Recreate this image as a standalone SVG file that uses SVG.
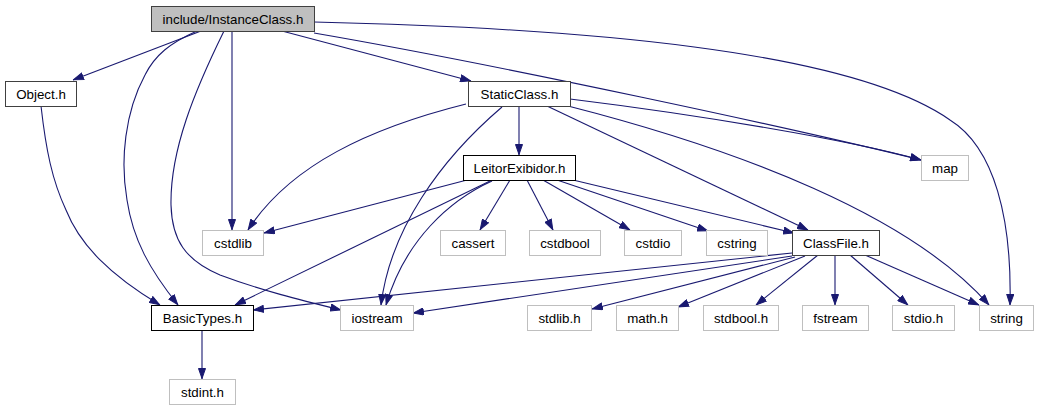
<svg xmlns="http://www.w3.org/2000/svg" width="1039" height="411" viewBox="0 0 1039 411">
<style>
.n rect{fill:#ffffff;stroke:#000000;stroke-width:1}
.n.g rect{stroke:#bfbfbf}
.n.d rect{stroke:#404040}
.n.root rect{fill:#bfbfbf;stroke:#404040}
.n text{font-family:"Liberation Sans",Arial,Helvetica,sans-serif;font-size:13.33px;fill:#000000;text-anchor:middle}
#edges path{fill:none;stroke:#191970;stroke-width:1.1;marker-end:url(#arr)}
</style>
<defs>
<marker id="arr" viewBox="0 0 11 8" refX="11" refY="4" markerWidth="11" markerHeight="8" markerUnits="userSpaceOnUse" orient="auto">
<path d="M0.5,0.5 L10.5,4 L0.5,7.5 z" fill="#191970" stroke="#191970" stroke-width="1"/>
</marker>
</defs>
<rect width="1039" height="411" fill="#ffffff"/>
<g id="edges">
<path d="M201,31 L73,80"/>
<path d="M197,31 C170,43 155,55 145,75 C125,112 120,160 127,200 C133,240 150,270 178,305"/>
<path d="M41,106 C46,150 52,180 66,210 C80,245 110,275 160,305"/>
<path d="M224,31 C195,90 170,150 171,205 C172,240 185,260 220,275 C260,290 300,300 341,310"/>
<path d="M232,31 L232,230"/>
<path d="M282,31 L471,81"/>
<path d="M314,33 C500,65 800,130 921,160"/>
<path d="M570,99 C700,115 850,140 921,160"/>
<path d="M314,22 C580,28 850,50 950,120 C995,148 1012,220 1010,305"/>
<path d="M466,104 C370,128 290,165 248,230"/>
<path d="M502,107 C440,160 390,230 381,305"/>
<path d="M519,106 L519,155"/>
<path d="M547,106 L808,230"/>
<path d="M568,106 C740,150 910,215 989,305"/>
<path d="M467,180 L264,233"/>
<path d="M490,181 L235,305"/>
<path d="M492,181 C450,200 405,240 386,305"/>
<path d="M510,180 L480,230"/>
<path d="M527,180 L553,230"/>
<path d="M543,180 L630,230"/>
<path d="M557,180 L708,231"/>
<path d="M573,180 L794,233"/>
<path d="M792,253 L253,310"/>
<path d="M792,256 L413,313"/>
<path d="M795,257 L592,309"/>
<path d="M805,256 L678,307"/>
<path d="M818,255 L756,305"/>
<path d="M835,255 L835,305"/>
<path d="M850,255 L908,305"/>
<path d="M865,255 L979,305"/>
<path d="M202,330 L202,379"/>
</g>
<g id="node-InstanceClass" class="n root"><rect x="151.5" y="6.5" width="163" height="25"/><text x="233" y="24">include/InstanceClass.h</text></g>
<g id="node-Object" class="n d"><rect x="5.5" y="81.5" width="71" height="25"/><text x="41" y="99">Object.h</text></g>
<g id="node-StaticClass" class="n d"><rect x="468.5" y="81.5" width="102" height="25"/><text x="519.5" y="99">StaticClass.h</text></g>
<g id="node-LeitorExibidor" class="n"><rect x="463.5" y="155.5" width="112" height="25"/><text x="519.5" y="173">LeitorExibidor.h</text></g>
<g id="node-map" class="n g"><rect x="921.5" y="155.5" width="47" height="25"/><text x="945" y="173">map</text></g>
<g id="node-cstdlib" class="n g"><rect x="202.5" y="230.5" width="61" height="25"/><text x="233" y="248">cstdlib</text></g>
<g id="node-cassert" class="n g"><rect x="440.5" y="230.5" width="65" height="25"/><text x="473" y="248">cassert</text></g>
<g id="node-cstdbool" class="n g"><rect x="529.5" y="230.5" width="71" height="25"/><text x="565" y="248">cstdbool</text></g>
<g id="node-cstdio" class="n g"><rect x="624.5" y="230.5" width="57" height="25"/><text x="653" y="248">cstdio</text></g>
<g id="node-cstring" class="n g"><rect x="706.5" y="230.5" width="61" height="25"/><text x="737" y="248">cstring</text></g>
<g id="node-ClassFile" class="n d"><rect x="792.5" y="230.5" width="87" height="25"/><text x="836" y="248">ClassFile.h</text></g>
<g id="node-BasicTypes" class="n"><rect x="151.5" y="305.5" width="102" height="25"/><text x="202.5" y="323">BasicTypes.h</text></g>
<g id="node-iostream" class="n g"><rect x="340.5" y="305.5" width="73" height="25"/><text x="377" y="323">iostream</text></g>
<g id="node-stdlib" class="n g"><rect x="527.5" y="305.5" width="64" height="25"/><text x="559.5" y="323">stdlib.h</text></g>
<g id="node-math" class="n g"><rect x="616.5" y="305.5" width="62" height="25"/><text x="647.5" y="323">math.h</text></g>
<g id="node-stdbool" class="n g"><rect x="703.5" y="305.5" width="75" height="25"/><text x="741" y="323">stdbool.h</text></g>
<g id="node-fstream" class="n g"><rect x="802.5" y="305.5" width="66" height="25"/><text x="835.5" y="323">fstream</text></g>
<g id="node-stdio" class="n g"><rect x="892.5" y="305.5" width="62" height="25"/><text x="923.5" y="323">stdio.h</text></g>
<g id="node-string" class="n g"><rect x="979.5" y="305.5" width="54" height="25"/><text x="1006.5" y="323">string</text></g>
<g id="node-stdint" class="n g"><rect x="169.5" y="379.5" width="66" height="25"/><text x="202.5" y="397">stdint.h</text></g>
</svg>
